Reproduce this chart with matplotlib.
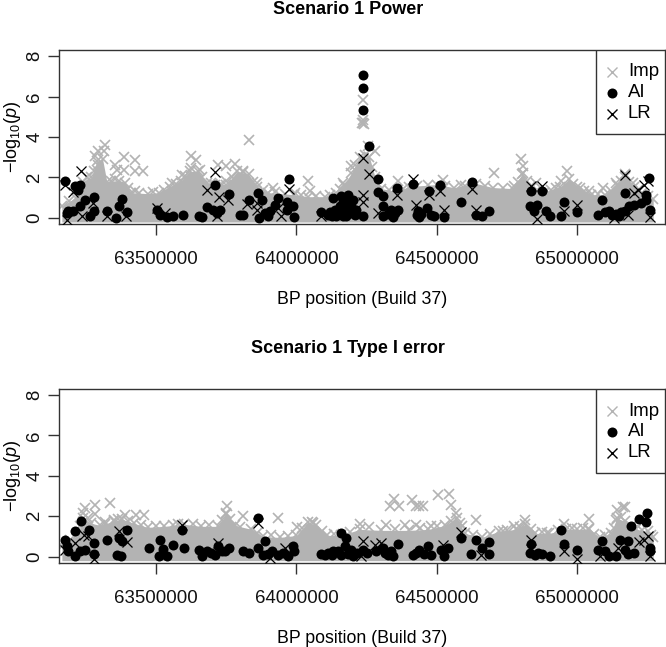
import numpy as np
import matplotlib
matplotlib.use("Agg")
import matplotlib.pyplot as plt
from matplotlib.patches import Rectangle

plt.rcParams['font.family'] = ['Liberation Sans', 'DejaVu Sans']
plt.rcParams['mathtext.fontset'] = 'custom'
plt.rcParams['mathtext.rm'] = 'Liberation Sans'
plt.rcParams['mathtext.it'] = 'Liberation Sans:italic'

# all positions in kb
x_ticks = [63500, 64000, 64500, 65000]
x_tick_labels = ['63500000', '64000000', '64500000', '65000000']
y_ticks = [0, 2, 4, 6, 8]
legend_names = ['Imp', 'AI', 'LR']

# top edge of the solid grey band of Imp crosses
power_band = [(63165,.6),(63215,1.0),(63240,1.8),(63270,2.0),(63290,2.8),(63310,2.9),(63325,1.8),
              (63370,1.85),(63390,1.75),(63410,1.25),(63470,1.2),(63510,1.25),(63550,1.55),(63590,1.85),
              (63620,2.3),(63650,2.3),(63680,1.75),(63710,1.65),(63750,1.65),(63790,2.3),(63830,2.15),
              (63860,1.55),(63900,1.25),(63990,1.15),(64040,1.05),(64100,1.05),(64140,1.25),(64170,1.65),
              (64195,2.2),(64225,3.0),(64260,3.0),(64280,2.0),(64300,1.45),(64360,1.3),(64400,1.55),
              (64500,1.65),(64560,1.5),(64640,1.7),(64700,1.5),(64770,1.45),(64805,2.2),(64830,1.55),
              (64880,1.25),(64940,1.55),(64970,1.9),(65000,1.55),(65050,1.15),(65100,1.15),(65140,1.65),
              (65170,2.0),(65200,1.55),(65230,1.25),(65270,.95)]
type1_band = [(63165,.55),(63220,1.05),(63240,1.9),(63270,1.65),(63300,1.55),(63350,1.75),(63380,1.85),
              (63420,1.65),(63470,1.45),(63530,1.5),(63600,1.6),(63660,1.5),(63720,1.5),(63750,2.1),
              (63780,1.55),(63840,1.35),(63880,1.0),(63940,.95),(64000,1.05),(64040,1.7),(64070,1.55),
              (64110,1.05),(64160,1.05),(64225,1.35),(64300,1.3),(64400,1.3),(64470,1.35),(64530,1.55),
              (64570,1.9),(64600,1.15),(64660,.95),(64720,1.25),(64780,1.35),(64815,1.6),(64850,1.15),
              (64900,1.15),(64960,1.35),(65000,1.35),(65040,1.35),(65080,.95),(65120,1.15),(65140,1.9),
              (65170,1.75),(65210,1.35),(65250,1.25),(65270,.95)]

power_imp = [(63319,3.62),(63316,3.29),(63295,3.29),(63283,3.05),(63295,2.63),(63292,2.3),(63354,2.63),
             (63386,3.0),(63386,2.39),(63361,2.39),(63425,2.88),(63425,2.3),(63455,2.34),(63832,3.87),
             (63624,3.08),(63642,2.85),(63623,2.47),(63656,2.39),(63591,2.14),(63556,1.73),(63722,2.63),
             (63751,2.58),(63781,2.67),(63748,1.81),(63811,2.3),(63858,1.73),(63917,1.48),(64042,1.84),
             (64050,1.32),(63995,1.23),(63425,1.32),(64237,5.84),(64237,4.7),(64232,4.7),(64242,4.65),
             (64237,4.85),(64254,3.54),(64278,3.29),(64195,2.55),(64166,1.73),(64361,1.81),(64521,1.89),
             (64587,1.65),(64703,2.22),(64800,2.91),(64806,2.55),(64804,2.19),(64776,1.56),(64853,1.73),
             (64963,2.34),(64943,1.81),(65008,1.48),(65091,1.48),(65138,1.73),(65168,2.19),(65197,1.73),
             (65043,1.32),
             # crosses along the edge of the band
             (63190,.85),(63228,1.4),(63255,2.0),(63280,2.3),(63340,1.85),(63355,1.9),(63400,1.5),
             (63440,1.25),(63490,1.3),(63530,1.4),(63570,1.7),(63605,2.05),(63665,2.0),(63695,1.75),
             (63730,1.7),(63770,2.0),(63810,2.25),(63845,1.8),(63880,1.4),(63925,1.3),(63960,1.2),
             (64015,1.15),(64070,1.1),(64120,1.15),(64155,1.45),(64210,2.6),(64245,3.1),(64270,2.5),
             (64290,1.7),(64330,1.4),(64380,1.45),(64430,1.6),(64470,1.65),(64530,1.6),(64600,1.6),
             (64670,1.6),(64735,1.5),(64790,1.8),(64820,1.85),(64855,1.4),(64905,1.4),(64925,1.5),
             (64985,1.7),(65025,1.35),(65075,1.2),(65120,1.35),(65155,1.85),(65185,1.8),(65215,1.4),
             (65250,1.1)]
power_ai = [(63177,1.81),(63230,1.65),(63212,1.56),(63224,1.4),(63247,.87),(63281,1.04),(63230,.58),
            (63206,.33),(63182,.25),(63188,.33),(63281,.33),(63265,.1),(63324,.33),(63378,.94),
            (63370,.58),(63358,0),(63396,.28),(63505,.41),(63514,.16),(63538,.05),(63559,.08),
            (63595,.16),(63653,.12),(63663,.05),(63683,.54),(63710,1.65),(63704,.41),(63728,.41),
            (63716,.25),(63760,1.19),(63811,.13),(63832,.9),(63862,1.23),(63876,.9),(63868,0),
            (63888,.25),(63906,.33),(63923,.66),(63933,.99),(63965,.77),(63975,1.93),(63965,.38),
            (63989,.58),(63991,.05),(64089,.28),(64113,.16),(64131,.99),(64237,7.06),(64237,6.4),
            (64237,5.35),(64260,3.57),(64237,.08),(64290,1.93),(64290,1.28),(64308,1.07),(64308,.58),
            (64308,.08),(64338,.41),(64361,.41),(64343,.05),(64357,1.48),(64415,1.68),(64432,.33),
            (64436,.05),(64472,1.32),(64464,.49),(64480,.16),(64512,1.65),(64527,.05),(64587,.77),
            (64625,1.76),(64640,.16),(64660,.08),(64687,.33),(64836,1.35),(64875,1.35),(64830,.58),
            (64856,.66),(64847,.33),(64889,.33),(64903,.08),(64942,.08),(64951,.77),(65000,.28),
            (65087,.87),(65075,.16),(65097,.28),(65114,.33),(65138,.2),(65168,1.23),(65168,.33),
            (65185,.58),(65203,.66),(65227,.74),(65245,1.15),(65245,.9),(65254,1.98),(65257,.41),
            (64177,.66),(64154,.58),(64201,.9),(64183,1.15),(64166,.08),(64189,.25),(64136,.41),
            (64213,.41),(64142,.08),(64160,1.07),(64177,.08),(64201,.33),(64172,.33),(64183,.8),
            (64120,.3),(64150,.2),(64165,.9),(64195,.6),(64208,.15),(64125,.1),(63800,.13),(63900,.1),
            (64325,.2),(64350,.25),(64428,.15),(64445,.2),(64490,.1),(65125,.15),(65155,.3),(65150,.1)]
power_lr = [(63233,2.34),(63177,1.65),(63206,1.3),(63182,-.08),(63236,.08),(63277,.74),(63324,.08),
            (63393,.08),(63505,.49),(63532,.25),(63710,2.26),(63680,1.37),(63725,1.02),(63757,.87),
            (63718,.12),(63823,.7),(63859,.74),(63859,.41),(63975,1.43),(63945,.12),(63936,.49),
            (64089,.08),(64237,2.96),(64260,2.19),(64237,1.15),(64237,.77),(64290,.25),(64357,1.12),
            (64415,1.94),(64426,.63),(64472,1.12),(64512,1.35),(64527,.38),(64625,1.43),(64640,.41),
            (64836,1.56),(64875,1.56),(64856,-.05),(64951,.33),(65000,.63),(65168,2.11),(65203,1.23),
            (65239,1.65),(65250,1.81),(65257,.05),(65180,.16),(65132,0),(65215,1.4)]

type1_imp = [(63336,2.68),(63283,2.57),(63248,2.4),(63283,2.12),(63239,2.16),(63390,2.04),(63429,2.07),
             (63457,2.04),(63579,1.63),(63754,2.49),(63751,2.16),(63811,1.99),(63933,1.89),(64003,1.45),
             (64060,1.66),(63319,1.7),(63349,1.83),(64349,2.85),(64334,2.53),(64365,2.53),(64411,2.78),
             (64438,2.53),(64452,2.53),(64426,2.53),(64504,3.06),(64543,3.11),(64551,2.57),(64569,2.16),
             (64581,1.66),(64638,1.83),(64812,1.79),(64776,1.5),(64735,1.28),(64893,1.17),(64954,1.63),
             (65043,1.88),(65037,1.37),(65140,2.32),(65171,2.44),(65162,2.44),(65138,1.83),(64225,1.63),
             (64320,1.58),(64385,1.58),(64426,1.58),(64480,1.53),
             # crosses along the edge of the band
             (63195,.8),(63230,1.5),(63258,1.9),(63320,1.6),(63365,1.85),(63400,1.75),(63445,1.55),
             (63500,1.5),(63560,1.55),(63630,1.6),(63690,1.55),(63735,1.8),(63765,1.85),(63800,1.45),
             (63860,1.15),(63910,1.05),(63970,1.0),(64020,1.4),(64055,1.7),(64090,1.25),(64135,1.1),
             (64190,1.2),(64260,1.45),(64350,1.35),(64440,1.4),(64500,1.5),(64550,1.75),(64590,1.5),
             (64630,1.05),(64690,1.1),(64750,1.3),(64795,1.45),(64835,1.35),(64875,1.2),(64930,1.3),
             (64980,1.4),(65020,1.4),(65060,1.1),(65100,1.05),(65130,1.4),(65155,1.95),(65190,1.5),
             (65230,1.3),(65262,1.05)]
type1_ai = [(63177,.81),(63182,.51),(63188,.26),(63212,1.28),(63233,1.74),(63261,1.33),(63281,.67),
            (63281,.13),(63212,.05),(63230,.26),(63248,.35),(63324,.81),(63370,.92),(63396,1.3),
            (63378,.76),(63360,.1),(63374,.05),(63475,.43),(63514,.84),(63524,.38),(63512,.02),
            (63538,.02),(63559,.56),(63591,1.3),(63600,.43),(63653,.35),(63663,.02),(63680,.26),
            (63710,.1),(63722,.51),(63734,.26),(63760,.43),(63811,.26),(63832,.18),(63862,1.91),
            (63864,.43),(63888,.79),(63882,.1),(63912,.26),(63936,.1),(63953,.18),(63971,.02),
            (63989,.51),(63991,.26),(64089,.13),(64113,.18),(64131,.26),(64160,1.17),(64177,.92),
            (64148,.26),(64172,.51),(64195,.35),(64201,.02),(64237,.35),(64308,.43),(64314,.18),
            (64343,.02),(64361,.64),(64338,.26),(64415,.1),(64438,.35),(64468,.51),(64480,.1),
            (64515,.35),(64525,.02),(64539,.43),(64585,.92),(64638,.81),(64622,.15),(64660,.43),
            (64687,.71),(64687,.15),(64836,.64),(64830,.18),(64859,.18),(64901,.05),(64942,1.3),
            (64951,.64),(65000,.31),(65087,.76),(65075,.35),(65097,.26),(65114,.02),(65138,.05),
            (65152,.81),(65180,.76),(65168,.35),(65191,1.5),(65180,.13),(65203,.18),(65221,1.88),
            (65247,2.16),(65245,1.7),(65257,.43),(65257,.26),
            (63695,.2),(63745,.3),(63900,.12),(64100,.1),(64125,.08),(64160,.1),(64185,.15),(64215,.2),
            (64250,.2),(64285,.3),(64325,.1),(64425,.2),(64455,.15),(64850,.1),(64875,.15)]
type1_lr = [(63370,1.28),(63396,.71),(63212,.67),(63242,1.09),(63259,1.0),(63281,-.1),(63591,1.55),
            (63862,1.66),(63906,-.05),(63959,.43),(63722,.67),(63176,.35),(64237,.76),(64302,.67),
            (64278,.59),(64585,1.2),(64658,.1),(64836,.84),(64951,.26),(65000,-.1),(65079,.02),
            (65144,.43),(65221,.71),(65250,1.0),(65239,.84),(65257,.02),(64231,.02),(64521,.59)]

GREY = '#b3b3b3'
EDGE = '#333333'
W, H = 666, 647
legend_rows = [22, 42.5, 63.5]
legend_styles = [('x', GREY), ('o', 'black'), ('x', 'black')]


def panel(box, title, band, imp, ai, lr):
    # box is left, top, right, bottom in pixels
    l, t, r, b = box
    ax = fig.add_axes([l / W, 1 - b / H, (r - l) / W, (b - t) / H])
    bx, by = np.array(band).T
    ax.fill_between(bx, -0.2, by, color=GREY, lw=0, zorder=1)
    ax.plot(bx, by, 'x', color=GREY, ms=6.5, mew=1.2, zorder=2)
    ax.plot(*np.array(imp).T, 'x', color=GREY, ms=6.5, mew=1.2, zorder=2)
    ax.plot(*np.array(ai).T, 'o', color='black', ms=7.2, mew=0, zorder=3)
    ax.plot(*np.array(lr).T, 'x', color='black', ms=6.5, mew=0.9, zorder=4)
    ax.set_xlim(63153.7, 65312)
    ax.set_ylim(-0.3, 8.3)
    ax.set_xticks(x_ticks, x_tick_labels)
    ax.set_yticks(y_ticks, [str(v) for v in y_ticks], rotation=90, va='center')
    ax.tick_params(length=8, width=1, color=EDGE, labelsize=13.4, labelcolor='#111111')
    ax.tick_params(axis='x', pad=11.5)
    ax.tick_params(axis='y', pad=3)
    for s in ax.spines.values():
        s.set_color(EDGE)
        s.set_linewidth(1)
    ax.set_xlabel('BP position (Build 37)', fontsize=12.8, labelpad=16.5)
    ax.set_ylabel(r'$-\mathrm{log}_{10}(\mathit{p})$', fontsize=13, labelpad=2.5)
    ax.set_title(title, fontsize=13, fontweight='bold', pad=26, x=0.477)

    # legend box pinned to the top right corner, sizes in pixels
    pw, ph = r - l, b - t
    ax.add_patch(Rectangle((1 - 69 / pw, 1 - 84 / ph), 69 / pw, 84 / ph, transform=ax.transAxes,
                           fc='white', ec=EDGE, lw=1, zorder=5))
    for name, row, (m, c) in zip(legend_names, legend_rows, legend_styles):
        ax.plot([1 - 53 / pw], [1 - row / ph], m, color=c, ms=6.5 if m == 'x' else 7.2,
                mew=1 if m == 'x' else 0, transform=ax.transAxes, zorder=6)
        ax.text(1 - 37 / pw, 1 - row / ph, name, fontsize=13.4, va='center', ha='left',
                transform=ax.transAxes, zorder=6)
    return ax


fig = plt.figure(figsize=(W / 100, H / 100), dpi=100)
panel((58.7, 50, 665, 224), 'Scenario 1 Power', power_band, power_imp, power_ai, power_lr)
panel((58.7, 389, 665, 562.7), 'Scenario 1 Type I error', type1_band, type1_imp, type1_ai, type1_lr)
fig.savefig('out.png', dpi=100)
